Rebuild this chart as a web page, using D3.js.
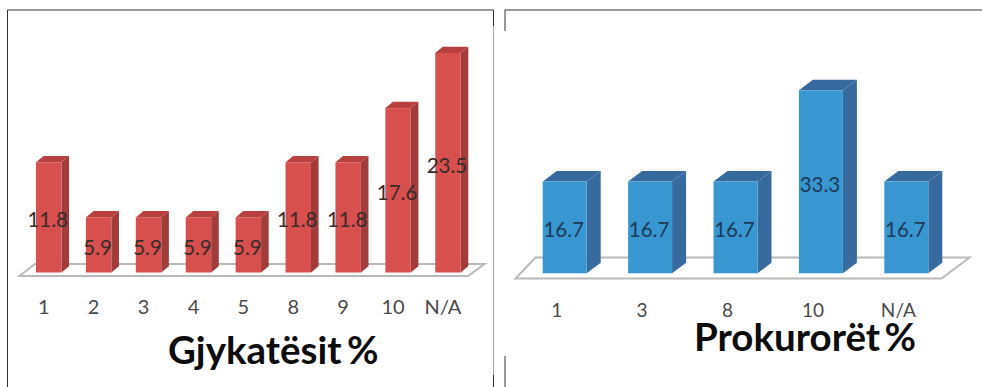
<!DOCTYPE html>
<html>
<head>
<meta charset="utf-8">
<script src="https://cdnjs.cloudflare.com/ajax/libs/d3/7.8.5/d3.min.js"></script>
<style>
  html, body { margin: 0; padding: 0; background: #fff; }
  svg { display: block; }
  text { font-family: Lato, "Open Sans", sans-serif; }
</style>
</head>
<body>
<svg id="chart" width="982" height="387"></svg>
<script>
// Judges: share of respondents per answer category
const judgeCategories = ["1", "2", "3", "4", "5", "8", "9", "10", "N/A"];
const judgeValues = [11.8, 5.9, 5.9, 5.9, 5.9, 11.8, 11.8, 17.6, 23.5];

// Prosecutors: share of respondents per answer category
const prosecutorCategories = ["1", "3", "8", "10", "N/A"];
const prosecutorValues = [16.7, 16.7, 16.7, 33.3, 16.7];

const svg = d3.select("#chart");

// Draws one pseudo-3D column panel: floor plate, extruded columns, labels, axis, title.
function drawPanel(opts) {
  const g = svg.append("g");
  const x = d3.scaleBand()
    .domain(opts.categories)
    .range(opts.xRange)
    .paddingInner(opts.padding)
    .paddingOuter(0);
  const y = d3.scaleLinear()
    .domain([0, opts.yMax])
    .range([opts.baseY, opts.topY]);
  const dx = opts.depthX, dy = opts.depthY;

  // floor plate under the columns
  g.append("polygon")
    .attr("points", opts.floor.map(p => p.join(",")).join(" "))
    .attr("fill", "#fff")
    .attr("stroke", "#b9b9b9")
    .attr("stroke-width", opts.floorStroke);

  const bars = g.selectAll("g.bar")
    .data(opts.values)
    .join("g")
    .attr("class", "bar")
    .attr("transform", (d, i) => `translate(${x(opts.categories[i])},0)`);
  const w = x.bandwidth();

  // side face
  bars.append("path")
    .attr("fill", opts.sideColor)
    .attr("d", d => `M${w},${y(d)} l${dx},${-dy} L${w + dx},${y(0) - dy} L${w},${y(0)} Z`);
  // top face
  bars.append("path")
    .attr("fill", opts.topColor)
    .attr("d", d => `M0,${y(d)} l${dx},${-dy} h${w} l${-dx},${dy} Z`);
  // front face
  bars.append("rect")
    .attr("y", d => y(d))
    .attr("width", w)
    .attr("height", d => y(0) - y(d))
    .attr("fill", opts.frontColor);

  // value labels sit at the middle of the column front
  bars.append("text")
    .attr("x", w / 2 + opts.labelShift)
    .attr("y", d => (y(d) + y(0)) / 2 + opts.labelDrop)
    .attr("text-anchor", "middle")
    .attr("dominant-baseline", "central")
    .attr("font-size", opts.labelSize)
    .attr("fill", opts.labelColor)
    .text(d => d.toFixed(1));

  // category axis below the floor
  const axis = d3.axisBottom(x).tickSize(0).tickPadding(0);
  const axisG = g.append("g")
    .attr("transform", `translate(${opts.axisShift},${opts.axisY})`)
    .call(axis);
  axisG.select(".domain").remove();
  axisG.selectAll("text")
    .attr("font-size", opts.tickSize)
    .attr("fill", "#4a4a4a")
    .attr("dy", "0.36em")
    .attr("y", 0);

  // panel title
  g.append("text")
    .attr("x", opts.titleX)
    .attr("y", opts.titleY)
    .attr("font-size", opts.titleSize)
    .attr("word-spacing", opts.titleWordGap)
    .attr("font-weight", 700)
    .attr("fill", "#0c0c0c")
    .text(opts.title);
}

drawPanel({
  categories: judgeCategories,
  values: judgeValues,
  title: "Gjykatësit %",
  xRange: [36, 460.7],
  padding: 0.49,
  yMax: 23.5,
  baseY: 272.5,
  topY: 53,
  depthX: 7.6,
  depthY: 6.3,
  floor: [[19.5, 276], [468, 276], [484.5, 264], [35, 264]],
  floorStroke: 2,
  frontColor: "#d8504e",
  sideColor: "#a13c3b",
  topColor: "#b8403e",
  labelColor: "#3a2a2a",
  labelSize: 20.5,
  labelShift: -1,
  labelDrop: 2,
  axisShift: -5,
  axisY: 307,
  tickSize: 20,
  titleX: 168,
  titleY: 364,
  titleSize: 38.5,
  titleWordGap: -4
});

drawPanel({
  categories: prosecutorCategories,
  values: prosecutorValues,
  title: "Prokurorët %",
  xRange: [542.7, 928.3],
  padding: 0.485,
  yMax: 33.3,
  baseY: 273.3,
  topY: 90.3,
  depthX: 14,
  depthY: 10.5,
  floor: [[515.5, 278.5], [941.5, 278.5], [969.5, 257.5], [535.5, 257.5]],
  floorStroke: 2,
  frontColor: "#3897d0",
  sideColor: "#376ba0",
  topColor: "#366a9f",
  labelColor: "#1e3a58",
  labelSize: 20.5,
  labelShift: -1,
  labelDrop: 2,
  axisShift: -8,
  axisY: 310,
  tickSize: 19,
  titleX: 694,
  titleY: 351,
  titleSize: 38.5,
  titleWordGap: -5
});

// Thin frame fragments around the two panels
const frameSegments = [
  { x1: 7.5, y1: 10, x2: 493.5, y2: 10, c: "#333" },
  { x1: 7.5, y1: 10, x2: 7.5, y2: 387, c: "#333" },
  { x1: 493.5, y1: 10, x2: 493.5, y2: 26, c: "#333" },
  { x1: 493.5, y1: 26, x2: 493.5, y2: 375, c: "#aaa" },
  { x1: 493.5, y1: 375, x2: 493.5, y2: 387, c: "#333" },
  { x1: 505, y1: 10, x2: 982, y2: 10, c: "#333" },
  { x1: 505, y1: 10, x2: 505, y2: 31, c: "#333" },
  { x1: 505, y1: 356, x2: 505, y2: 387, c: "#333" }
];
svg.append("g").selectAll("line")
  .data(frameSegments)
  .join("line")
  .attr("x1", d => d.x1).attr("y1", d => d.y1)
  .attr("x2", d => d.x2).attr("y2", d => d.y2)
  .attr("stroke", d => d.c)
  .attr("stroke-width", 1);
</script>
</body>
</html>
